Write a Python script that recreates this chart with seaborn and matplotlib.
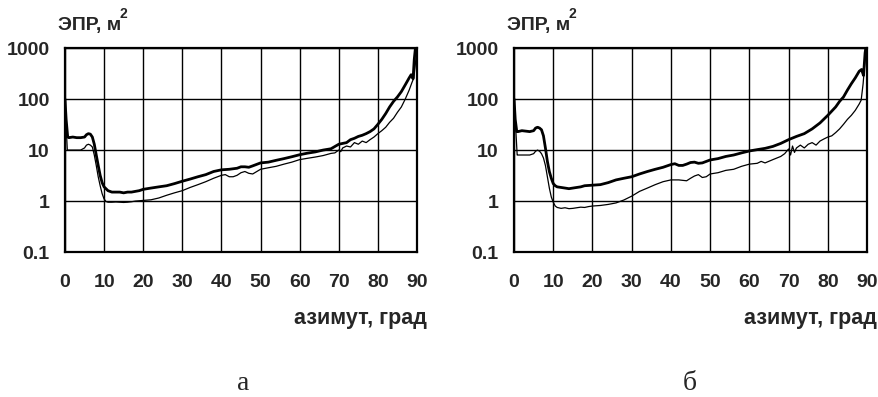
import numpy as np
import pandas as pd
import seaborn as sns
import matplotlib
matplotlib.use('Agg')
import matplotlib.pyplot as plt
from matplotlib.ticker import FixedLocator, NullLocator

# panel (а): thick and thin curves
a_thick_az = [0, 0.3, 0.7, 1, 2, 3, 4, 5, 5.5, 6, 6.5, 7, 7.5, 8, 8.5, 9, 9.5, 10, 11, 12, 13, 14, 15,
              16, 17, 18, 19, 20, 22, 24, 26, 28, 30, 32, 34, 36, 38, 40, 42, 44, 45, 46, 47, 48, 50,
              52, 54, 56, 58, 60, 62, 64, 66, 68, 70, 71, 72, 73, 74, 75, 76, 77, 78, 79, 80, 81, 82,
              83, 84, 85, 86, 87, 88, 88.5, 89, 89.3, 89.6, 90]
a_thick_val = [100, 40, 18, 17.5, 18, 17.5, 17.5, 18, 20, 21, 20.5, 18, 13, 8, 5, 3.2, 2.3, 1.9, 1.6,
               1.5, 1.5, 1.5, 1.45, 1.5, 1.5, 1.55, 1.6, 1.7, 1.8, 1.9, 2.0, 2.2, 2.45, 2.7, 3.0, 3.3,
               3.8, 4.1, 4.2, 4.4, 4.7, 4.7, 4.6, 4.9, 5.6, 5.8, 6.3, 6.8, 7.4, 8.1, 8.7, 9.2, 10, 10.6,
               13, 13.5, 14, 16, 17, 18.5, 19.5, 21, 23, 26, 32, 40, 52, 70, 90, 110, 140, 190, 260,
               300, 250, 600, 1000, 1500]

a_thin_az = [0, 0.3, 0.6, 1, 2, 3, 4, 5, 5.5, 6, 6.5, 7, 7.5, 8, 8.5, 9, 9.5, 10, 10.5, 11, 12, 13,
             14, 15, 16, 17, 18, 20, 22, 24, 26, 28, 30, 32, 34, 36, 38, 40, 41, 42, 43, 44, 45, 46,
             47, 48, 50, 52, 54, 56, 58, 60, 62, 64, 66, 68, 69, 70, 70.5, 71, 72, 73, 74, 75, 76, 77,
             78, 79, 80, 81, 82, 83, 84, 85, 86, 87, 88, 88.7, 89.2, 89.6, 90]
a_thin_val = [100, 30, 10, 10, 10, 10, 10, 11, 12.5, 13, 12.5, 11.5, 8, 5, 3, 2, 1.4, 1.1, 0.98, 0.95,
              0.95, 0.96, 0.95, 0.94, 0.95, 0.97, 1.0, 1.03, 1.06, 1.15, 1.3, 1.45, 1.6, 1.85, 2.1,
              2.4, 2.8, 3.2, 3.3, 3.0, 3.0, 3.2, 3.6, 3.8, 3.5, 3.4, 4.2, 4.5, 4.8, 5.3, 5.8, 6.5, 6.9,
              7.3, 7.8, 8.6, 8.8, 10, 9.3, 11, 12, 11.5, 14, 13, 15, 14, 16, 18, 21, 24, 28, 35, 42,
              55, 70, 100, 150, 210, 260, 500, 1000]

# panel (б)
b_thick_az = [0, 0.3, 0.7, 1, 2, 3, 4, 5, 5.5, 6, 6.5, 7, 7.5, 8, 8.5, 9, 9.5, 10, 10.5, 11, 12, 13,
              14, 15, 16, 17, 18, 20, 22, 24, 26, 28, 30, 32, 34, 36, 38, 40, 41, 42, 43, 44, 45, 46,
              47, 48, 50, 52, 54, 56, 58, 60, 62, 64, 66, 68, 70, 72, 74, 76, 78, 80, 82, 83, 84, 85,
              86, 87, 88, 88.6, 89.1, 89.5, 90]
b_thick_val = [100, 40, 23, 23, 24, 23.5, 23, 24, 27, 28, 27, 25, 19, 11, 6, 3.8, 2.8, 2.2, 2.0, 1.9,
               1.85, 1.8, 1.75, 1.8, 1.85, 1.9, 2.0, 2.05, 2.1, 2.3, 2.6, 2.8, 3.0, 3.4, 3.8, 4.2, 4.6,
               5.2, 5.4, 5.0, 5.0, 5.3, 5.7, 5.8, 5.5, 5.6, 6.4, 6.8, 7.5, 8.0, 8.8, 9.6, 10.2, 10.8,
               11.8, 13.5, 16, 18.5, 21, 26, 34, 48, 70, 90, 110, 150, 200, 260, 350, 380, 290, 800,
               1500]

b_thin_az = [0, 0.3, 0.8, 1, 2, 3, 4, 5, 5.5, 6, 6.5, 7, 7.5, 8, 8.5, 9, 9.5, 10, 10.5, 11, 12, 13,
             14, 15, 16, 17, 18, 19, 20, 22, 24, 26, 28, 30, 32, 34, 36, 38, 40, 42, 44, 45, 46, 47,
             48, 49, 50, 52, 54, 56, 58, 60, 62, 63, 64, 66, 68, 69, 70, 70.5, 71, 71.5, 72, 73, 74,
             75, 76, 77, 78, 79, 80, 81, 82, 83, 84, 85, 86, 87, 88, 88.5, 89, 89.5, 90]
b_thin_val = [100, 40, 8, 8, 8, 8, 8, 8.5, 9.5, 10, 9.5, 8.5, 7, 5, 3, 1.8, 1.2, 0.95, 0.8, 0.75,
              0.72, 0.74, 0.71, 0.72, 0.74, 0.76, 0.75, 0.78, 0.8, 0.82, 0.86, 0.92, 1.05, 1.25, 1.55,
              1.8, 2.1, 2.4, 2.6, 2.6, 2.5, 2.8, 3.1, 3.3, 2.9, 3.0, 3.4, 3.6, 4.0, 4.2, 4.8, 5.3, 5.5,
              6.0, 5.6, 6.5, 7.5, 8.5, 10.5, 8, 12, 9, 11, 12.5, 11, 13, 14, 12.5, 15, 16.5, 18, 19,
              22, 26, 32, 40, 48, 60, 80, 95, 200, 600, 1500]

x_ticks = [0, 10, 20, 30, 40, 50, 60, 70, 80, 90]
y_ticks = [0.1, 1, 10, 100, 1000]
y_tick_labels = ['0.1', '1', '10', '100', '1000']
panel_letters = ['а', 'б']

sns.set_style('white')
plt.rcParams['font.family'] = ['Liberation Sans', 'DejaVu Sans']

fig = plt.figure(figsize=(8.79, 3.97), dpi=100)
ax_a = fig.add_axes([0.0739, 0.365, 0.4005, 0.514])
ax_b = fig.add_axes([0.5848, 0.365, 0.4016, 0.514])

panels = [(ax_a, a_thick_az, a_thick_val, a_thin_az, a_thin_val),
          (ax_b, b_thick_az, b_thick_val, b_thin_az, b_thin_val)]

for ax, tk_x, tk_y, tn_x, tn_y in panels:
    sns.lineplot(x=tn_x, y=tn_y, ax=ax, color='black', linewidth=0.9, estimator=None, sort=False)
    sns.lineplot(x=tk_x, y=tk_y, ax=ax, color='black', linewidth=2.0, estimator=None, sort=False)
    ax.set_yscale('log')
    ax.set_xlim(0, 90)
    ax.set_ylim(0.1, 1000)
    ax.xaxis.set_major_locator(FixedLocator(x_ticks))
    ax.yaxis.set_major_locator(FixedLocator(y_ticks))
    ax.yaxis.set_minor_locator(NullLocator())
    ax.set_xticklabels([str(t) for t in x_ticks])
    ax.set_yticklabels(y_tick_labels)
    ax.tick_params(axis='both', length=0, labelsize=14)
    ax.tick_params(axis='x', pad=16)
    ax.tick_params(axis='y', pad=11)
    for lab in ax.get_xticklabels() + ax.get_yticklabels():
        lab.set_fontweight('bold')
    ax.grid(True, color='black', linewidth=1.0)
    for sp in ax.spines.values():
        sp.set_color('black')
        sp.set_linewidth(1.6)
    ax.set_xlabel('')
    ax.set_ylabel('')
    ax.text(-0.02, 1.11, 'ЭПР, м', transform=ax.transAxes, fontsize=14, fontweight='bold',
            ha='left', va='center')
    ax.text(0.155, 1.165, '2', transform=ax.transAxes, fontsize=10, fontweight='bold',
            ha='left', va='center')
    ax.text(1.028, -0.324, 'азимут, град', transform=ax.transAxes, fontsize=15.5,
            fontweight='bold', ha='right', va='center')

fig.text(243 / 879, 1 - 384 / 397, panel_letters[0], family='Liberation Serif', fontsize=20,
         ha='center', va='center')
fig.text(690 / 879, 1 - 384 / 397, panel_letters[1], family='Liberation Serif', fontsize=20,
         ha='center', va='center')

fig.savefig('out.png', dpi=100)
